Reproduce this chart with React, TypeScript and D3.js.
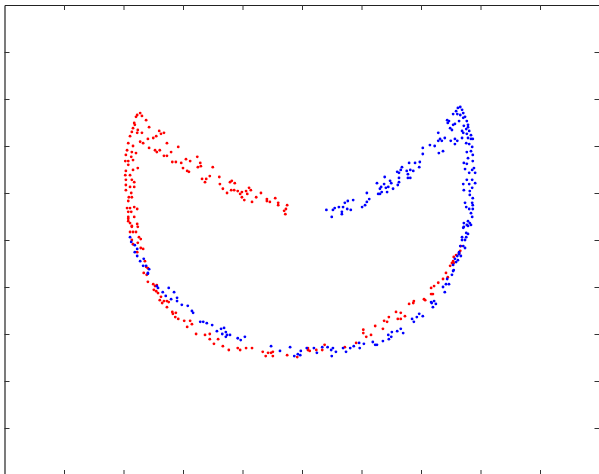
import * as d3 from "d3";
import { useEffect, useRef } from "react";

// axis ranges (no tick labels on the original)
const xDomain = [0, 10];
const yDomain = [0, 10];
const tickValues = [1, 2, 3, 4, 5, 6, 7, 8, 9];

// red class: upper-left arm, left arc and lower-left / lower-right arc
const redPoints: [number, number][] = [
  [2.28, 7.7], [2.23, 7.66], [2.31, 7.64], [2.21, 7.62], [2.38, 7.55], [2.18, 7.49], [2.19, 7.45],
  [2.16, 7.38], [2.43, 7.4], [2.24, 7.34], [2.14, 7.3], [2.23, 7.28], [2.31, 7.28], [2.6, 7.32],
  [2.63, 7.26], [2.68, 7.28], [2.55, 7.21], [2.11, 7.21], [2.28, 7.09], [2.33, 7.06], [2.5, 7.17],
  [2.41, 7.15], [2.73, 7.06], [2.08, 7.06], [2.16, 7.0], [2.43, 6.96], [2.06, 6.91], [2.53, 6.91],
  [2.61, 6.91], [2.56, 6.87], [2.14, 6.87], [2.21, 6.85], [2.92, 6.98], [2.8, 6.87], [2.68, 6.79],
  [2.73, 6.79], [2.04, 6.81], [2.13, 6.77], [2.08, 6.68], [2.16, 6.7], [2.03, 6.68], [2.82, 6.66],
  [2.88, 6.66], [2.97, 6.64], [3.05, 6.72], [3.12, 6.68], [3.24, 6.77], [3.29, 6.64], [3.0, 6.53],
  [3.07, 6.47], [3.1, 6.45], [3.25, 6.55], [3.3, 6.57], [3.5, 6.55], [2.08, 6.6], [2.16, 6.49],
  [2.24, 6.53], [2.04, 6.47], [2.03, 6.38], [2.11, 6.38], [3.32, 6.3], [3.39, 6.3], [3.45, 6.36],
  [3.37, 6.23], [3.61, 6.34], [2.04, 6.28], [2.14, 6.28], [2.18, 6.23], [3.62, 6.19], [3.79, 6.23],
  [3.82, 6.26], [3.87, 6.21], [2.04, 6.17], [2.11, 6.13], [2.18, 6.13], [3.67, 6.09], [3.74, 6.0],
  [3.81, 6.06], [3.86, 6.06], [3.92, 6.04], [3.99, 6.02], [3.96, 5.98], [4.06, 6.04], [4.11, 6.11],
  [4.14, 6.06], [4.08, 5.98], [3.99, 5.91], [4.03, 5.85], [4.16, 5.81], [4.23, 5.91], [4.31, 6.0],
  [4.41, 5.87], [4.41, 5.83], [4.46, 5.81], [4.55, 5.89], [4.6, 5.79], [4.6, 5.74], [4.75, 5.74],
  [4.73, 5.66], [4.7, 5.62], [4.72, 5.55], [2.04, 6.06], [2.13, 6.0], [2.09, 5.91], [2.14, 5.91],
  [2.08, 5.83], [2.06, 5.68], [2.11, 5.68], [2.18, 5.7], [2.23, 5.66], [2.08, 5.6], [2.13, 5.6],
  [2.08, 5.49], [2.18, 5.49], [2.08, 5.45], [2.11, 5.36], [2.23, 5.34], [2.14, 5.28], [2.24, 5.28],
  [2.08, 5.4], [2.14, 5.3], [2.11, 5.17], [2.16, 5.17], [2.21, 5.17], [2.26, 5.06], [2.14, 5.0],
  [2.29, 5.02], [2.24, 4.94], [2.16, 4.91], [2.29, 4.83], [2.33, 4.81], [2.23, 4.74], [2.36, 4.55],
  [2.38, 4.43], [2.41, 4.4], [2.34, 4.3], [2.39, 4.26], [2.41, 4.11], [2.5, 4.06], [2.53, 4.02],
  [2.56, 4.04], [2.51, 3.94], [2.55, 3.91], [2.58, 3.87], [2.63, 3.79], [2.61, 3.72], [2.68, 3.7],
  [2.65, 3.66], [2.73, 3.7], [2.76, 3.68], [2.73, 3.57], [2.82, 3.47], [2.83, 3.43], [2.88, 3.45],
  [2.87, 3.36], [2.92, 3.32], [3.02, 3.28], [3.12, 3.28], [3.15, 3.21], [3.07, 3.15], [3.22, 3.0],
  [3.37, 2.98], [3.45, 3.0], [3.45, 2.89], [3.52, 2.79], [3.59, 2.89], [3.67, 2.74], [3.77, 2.66],
  [3.92, 2.7], [3.96, 2.66], [4.06, 2.7], [4.16, 2.7], [4.34, 2.62], [4.39, 2.53], [4.43, 2.6],
  [4.48, 2.6], [4.51, 2.53], [4.51, 2.62], [4.75, 2.55], [4.92, 2.51],
  [7.67, 4.87], [7.66, 4.77], [7.64, 4.72], [7.59, 4.68], [7.55, 4.64], [7.54, 4.55], [7.52, 4.51],
  [7.49, 4.45], [7.55, 4.51], [7.42, 4.3], [7.45, 4.21], [7.37, 4.17], [7.29, 4.09], [7.22, 4.02],
  [7.17, 3.98], [7.2, 3.85], [7.17, 3.85], [7.05, 3.74], [7.07, 3.72], [6.88, 3.7], [6.87, 3.66],
  [6.8, 3.64], [6.58, 3.47], [6.66, 3.45], [6.73, 3.38], [6.46, 3.36], [6.61, 3.32], [6.66, 3.32],
  [6.38, 3.28], [6.43, 3.26], [6.36, 3.11], [6.23, 3.17], [6.16, 2.98], [6.03, 3.09], [6.03, 3.02],
  [6.08, 2.94], [5.91, 2.81], [5.72, 2.72], [5.38, 2.77], [5.34, 2.66], [5.24, 2.66], [5.1, 2.7],
  [5.1, 2.66], [5.13, 2.64],
];

// blue class: upper-right arm, right arc and lower arc
const bluePoints: [number, number][] = [
  [2.11, 5.06], [2.13, 4.96], [2.19, 4.89], [2.23, 4.81], [2.19, 4.74], [2.23, 4.66], [2.28, 4.55],
  [2.34, 4.6], [2.33, 4.45], [2.38, 4.45], [2.43, 4.38], [2.41, 4.3], [2.41, 4.28], [2.56, 4.02],
  [2.58, 3.98], [2.76, 3.98], [2.66, 3.89], [2.71, 3.81], [2.85, 3.89], [2.8, 3.74], [2.9, 3.77],
  [2.9, 3.7], [2.98, 3.62], [3.08, 3.6], [3.15, 3.49], [3.17, 3.45], [3.29, 3.26], [3.34, 3.26],
  [3.4, 3.23], [3.49, 3.19], [3.57, 3.06], [3.64, 3.11], [3.69, 3.13], [3.72, 3.04], [3.66, 3.0],
  [3.74, 2.98], [3.79, 2.98], [3.72, 2.94], [3.92, 2.91], [3.97, 2.87], [4.04, 2.94], [4.48, 2.74],
  [4.63, 2.64], [4.8, 2.72], [4.87, 2.53], [4.93, 2.57],
  [7.79, 5.4], [7.82, 5.36], [7.77, 5.32], [7.84, 5.32], [7.72, 5.28], [7.71, 5.26], [7.76, 5.15],
  [7.79, 5.13], [7.69, 5.06], [7.76, 5.06], [7.69, 5.0], [7.74, 5.0], [7.66, 4.87], [7.71, 4.87],
  [7.74, 4.83], [7.64, 4.74], [7.64, 4.7], [7.67, 4.66], [7.61, 4.66], [7.62, 4.57], [7.57, 4.6],
  [7.59, 4.53], [7.54, 4.47], [7.55, 4.36], [7.54, 4.34], [7.52, 4.26], [7.44, 4.17], [7.42, 4.06],
  [7.47, 4.06], [7.37, 4.0], [7.4, 3.89], [7.22, 3.7], [7.18, 3.66], [7.17, 3.68], [7.25, 3.64],
  [7.2, 3.57], [6.97, 3.43], [7.03, 3.38], [6.93, 3.36], [6.85, 3.32], [6.88, 3.26], [6.66, 3.11],
  [6.6, 3.06], [6.51, 3.04], [6.7, 3.02], [6.45, 2.98], [6.5, 2.94], [6.46, 2.89], [6.36, 2.85],
  [6.26, 2.77], [6.23, 2.77], [6.19, 2.83], [6.04, 2.79], [5.97, 2.7], [5.96, 2.81], [5.87, 2.74],
  [5.81, 2.7], [5.74, 2.62], [5.69, 2.7], [5.57, 2.62], [5.52, 2.7], [5.5, 2.53], [5.49, 2.66],
  [5.43, 2.72], [5.34, 2.72], [5.25, 2.6], [5.2, 2.7], [5.08, 2.7], [4.98, 2.64], [4.97, 2.55],
  [7.66, 7.83], [7.62, 7.81], [7.69, 7.77], [7.59, 7.74], [7.71, 7.7], [7.54, 7.68], [7.61, 7.68],
  [7.66, 7.66], [7.74, 7.62], [7.71, 7.6], [7.44, 7.55], [7.47, 7.53], [7.64, 7.53], [7.77, 7.53],
  [7.45, 7.49], [7.57, 7.47], [7.54, 7.45], [7.72, 7.43], [7.79, 7.45], [7.79, 7.4], [7.49, 7.38],
  [7.52, 7.34], [7.76, 7.36], [7.69, 7.32], [7.81, 7.32], [7.71, 7.28], [7.77, 7.26], [7.84, 7.23],
  [7.29, 7.28], [7.32, 7.15], [7.35, 7.11], [7.4, 7.17], [7.29, 7.11], [7.57, 7.15], [7.61, 7.11],
  [7.5, 7.11], [7.69, 7.17], [7.79, 7.17], [7.84, 7.15], [7.87, 7.15], [7.57, 7.04], [7.76, 7.06],
  [7.81, 7.04], [7.86, 6.98], [7.15, 7.02], [7.23, 7.0], [7.03, 6.96], [7.37, 6.89], [7.3, 6.85],
  [7.03, 6.83], [7.77, 6.87], [7.84, 6.89], [7.87, 6.81], [7.79, 6.74], [6.98, 6.66], [6.9, 6.64],
  [6.97, 6.55], [7.87, 6.68], [7.72, 6.64], [7.77, 6.62], [6.8, 6.64], [6.68, 6.55], [6.66, 6.49],
  [6.76, 6.47], [6.82, 6.49], [6.87, 6.47], [6.6, 6.45], [6.63, 6.43], [6.78, 6.4], [7.74, 6.51],
  [7.89, 6.53], [7.86, 6.49], [7.81, 6.43], [7.91, 6.43], [6.39, 6.34], [6.48, 6.26], [6.5, 6.21],
  [6.63, 6.32], [6.78, 6.32], [6.82, 6.32], [6.26, 6.21], [6.38, 6.19], [6.45, 6.13], [6.63, 6.23],
  [6.61, 6.17], [6.33, 6.13], [6.31, 6.09], [6.41, 6.11], [6.53, 6.09], [7.77, 6.28], [7.86, 6.28],
  [7.81, 6.19], [7.91, 6.21], [7.71, 6.19], [7.72, 6.06], [7.82, 6.04], [7.86, 6.11], [6.28, 5.98],
  [6.31, 5.98], [6.34, 6.02], [6.43, 6.02], [6.09, 6.0], [6.13, 5.87], [6.09, 5.81], [6.06, 5.74],
  [6.01, 5.7], [5.86, 5.85], [5.77, 5.83], [5.72, 5.79], [5.69, 5.7], [5.62, 5.7], [5.76, 5.66],
  [5.82, 5.64], [5.55, 5.68], [5.52, 5.64], [5.67, 5.6], [5.67, 5.55], [5.41, 5.64], [5.5, 5.49],
  [7.82, 5.96], [7.87, 5.89], [7.74, 5.79], [7.86, 5.79], [7.76, 5.7], [7.87, 5.74], [7.81, 5.66],
  [7.87, 5.66], [7.84, 5.57], [7.86, 5.49], [7.72, 5.36], [7.79, 5.3],
];

export default function App() {
  const svgRef = useRef<SVGSVGElement>(null);

  const width = 599;
  const height = 474;

  useEffect(() => {
    const svg = d3.select(svgRef.current);
    svg.selectAll("*").remove();

    // plot box: left 4.5, top 5, right and bottom edges fall just outside the picture
    const x = d3.scaleLinear().domain(xDomain).range([4.5, 599.5]);
    const y = d3.scaleLinear().domain(yDomain).range([475, 5]);

    svg.append("rect").attr("width", width).attr("height", height).attr("fill", "white");

    const axes = [
      { axis: d3.axisTop(x), t: "translate(0,5)" },
      { axis: d3.axisBottom(x), t: "translate(0,475)" },
      { axis: d3.axisLeft(y), t: "translate(4.5,0)" },
      { axis: d3.axisRight(y), t: "translate(599.5,0)" },
    ];
    axes.forEach(({ axis, t }) => {
      const g = svg
        .append("g")
        .attr("transform", t)
        .call(
          axis
            .tickValues(tickValues)
            .tickSizeInner(-5)
            .tickSizeOuter(0)
            .tickFormat(() => "")
        );
      g.select(".domain").attr("stroke", "#222").attr("stroke-width", 1.2);
      g.selectAll(".tick line").attr("stroke", "#333");
    });

    // red first, blue on top
    svg
      .append("g")
      .selectAll("circle")
      .data(redPoints)
      .enter()
      .append("circle")
      .attr("cx", (d) => x(d[0]))
      .attr("cy", (d) => y(d[1]))
      .attr("r", 1.4)
      .attr("fill", "#ff0000");

    svg
      .append("g")
      .selectAll("circle")
      .data(bluePoints)
      .enter()
      .append("circle")
      .attr("cx", (d) => x(d[0]))
      .attr("cy", (d) => y(d[1]))
      .attr("r", 1.4)
      .attr("fill", "#0000ff");
  }, []);

  return (
    <svg
      ref={svgRef}
      width={width}
      height={height}
      style={{ position: "absolute", left: 0, top: 0, display: "block" }}
    ></svg>
  );
}
